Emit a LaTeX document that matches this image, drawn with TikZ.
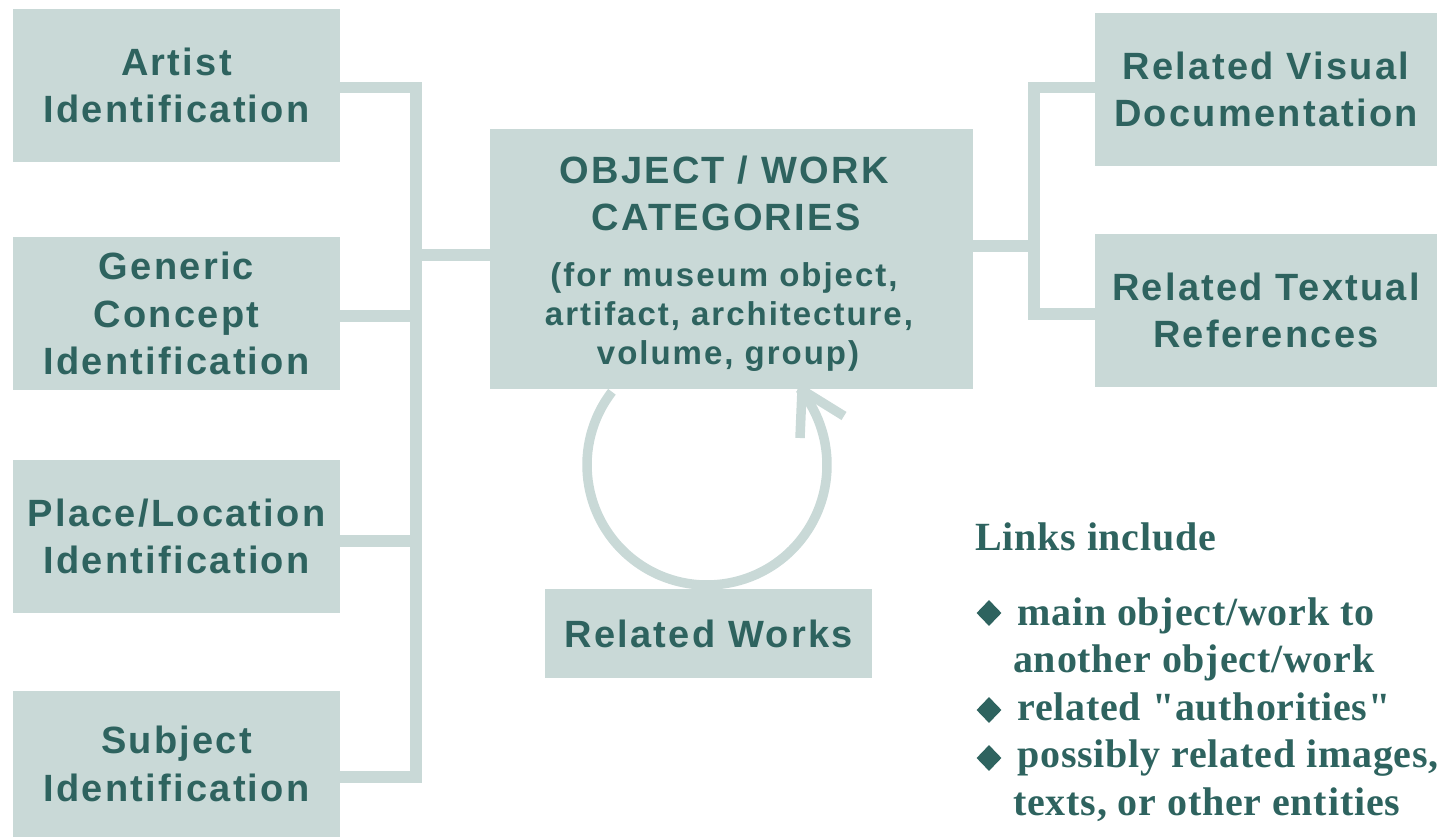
\documentclass[tikz,border=0pt]{standalone}
\usepackage{fontspec}
\newfontfamily\boxfont{Liberation Sans}[LetterSpace=6]
\newfontfamily\legfont{Liberation Serif}[LetterSpace=2]
\usetikzlibrary{shapes.geometric}
\definecolor{boxfill}{RGB}{201,217,215}
\definecolor{ink}{RGB}{46,99,95}
\begin{document}
\begin{tikzpicture}[x=1pt,y=-1pt,
  box/.style={fill=boxfill, inner sep=0pt, text=ink, align=center,
    font=\boxfont\bfseries\fontsize{38pt}{47.5pt}\selectfont},
  conn/.style={draw=boxfill, line width=11.5pt, line join=miter},
  loopline/.style={draw=boxfill, line width=9.5pt},
  ctitle/.style={text=ink, inner sep=0pt, anchor=base,
    font=\boxfont\bfseries\fontsize{38pt}{47.5pt}\selectfont},
  csub/.style={text=ink, inner sep=0pt, anchor=base,
    font=\boxfont\bfseries\fontsize{33pt}{40pt}\selectfont},
  legend/.style={text=ink, inner sep=0pt, anchor=base west,
    font=\legfont\bfseries\fontsize{40pt}{47.5pt}\selectfont},
  bullet/.style={diamond, fill=ink, inner sep=0pt, minimum width=25pt, minimum height=26pt}
]
\useasboundingbox (0,0) rectangle (1447,837);

% coordinates for the buses and loop
\coordinate (lbus) at (416,0);
\coordinate (rbus) at (1034,0);
\coordinate (loopc) at (707,465);

% boxes
\node[box, minimum width=327pt, minimum height=153pt] (artist) at (176.5,85.5) {Artist\\Identification};
\node[box, minimum width=327pt, minimum height=153pt] (generic) at (176.5,313.5) {Generic\\Concept\\Identification};
\node[box, minimum width=327pt, minimum height=153pt] (place) at (176.5,536.5) {Place/Location\\Identification};
\node[box, minimum width=327pt, minimum height=146pt] (subject) at (176.5,764) {Subject\\Identification};
\node[box, minimum width=483pt, minimum height=260pt] (obj) at (731.5,259) {};
\node[box, minimum width=342pt, minimum height=153pt] (visual) at (1266,89.5) {Related Visual\\Documentation};
\node[box, minimum width=342pt, minimum height=153pt] (textual) at (1266,310.5) {Related Textual\\References};
\node[box, minimum width=327pt, minimum height=89pt] (works) at (708.5,633.5) {Related Works};

% left connectors
\draw[conn] (artist.east |- 0,87.5) -- (lbus |- 0,87.5) -- (lbus |- 0,777) -- (subject.east |- 0,777);
\draw[conn] (generic.east |- 0,316) -- (lbus |- 0,316);
\draw[conn] (place.east |- 0,541) -- (lbus |- 0,541);
\draw[conn] (lbus |- 0,255) -- (obj.west |- 0,255);

% right connectors
\draw[conn] (obj.east |- 0,246) -- (rbus |- 0,246);
\draw[conn] (visual.west |- 0,87.5) -- (rbus |- 0,87.5) -- (rbus |- 0,314) -- (textual.west |- 0,314);

% loop arrow (related works)
\draw[loopline] (loopc) ++(217.6:120) arc[start angle=217.6, end angle=-39.4, radius=120];
\draw[loopline, line join=round] (800,438) -- (802,390) -- (844,416);

% centre box text
\node[ctitle] (t1) at (724,183) {OBJECT / WORK};
\node[ctitle] (t2) at (726,230) {CATEGORIES};
\node[csub] (s1) at (724,286) {(for museum object,};
\node[csub] (s2) at (729,325) {artifact, architecture,};
\node[csub] (s3) at (728,364) {volume, group)};

% legend
\node[legend] (lh) at (975,550) {Links include};
\node[bullet] (b1) at (989,613) {};
\node[bullet] (b2) at (989,710) {};
\node[bullet] (b3) at (989,758) {};
\node[legend] (l1) at (1017,625) {main object/work to};
\node[legend] (l2) at (1013,672) {another object/work};
\node[legend] (l3) at (1017,720) {related "authorities"};
\node[legend] (l4) at (1017,767) {possibly related images,};
\node[legend] (l5) at (1013,815) {texts, or other entities};
\end{tikzpicture}
\end{document}
